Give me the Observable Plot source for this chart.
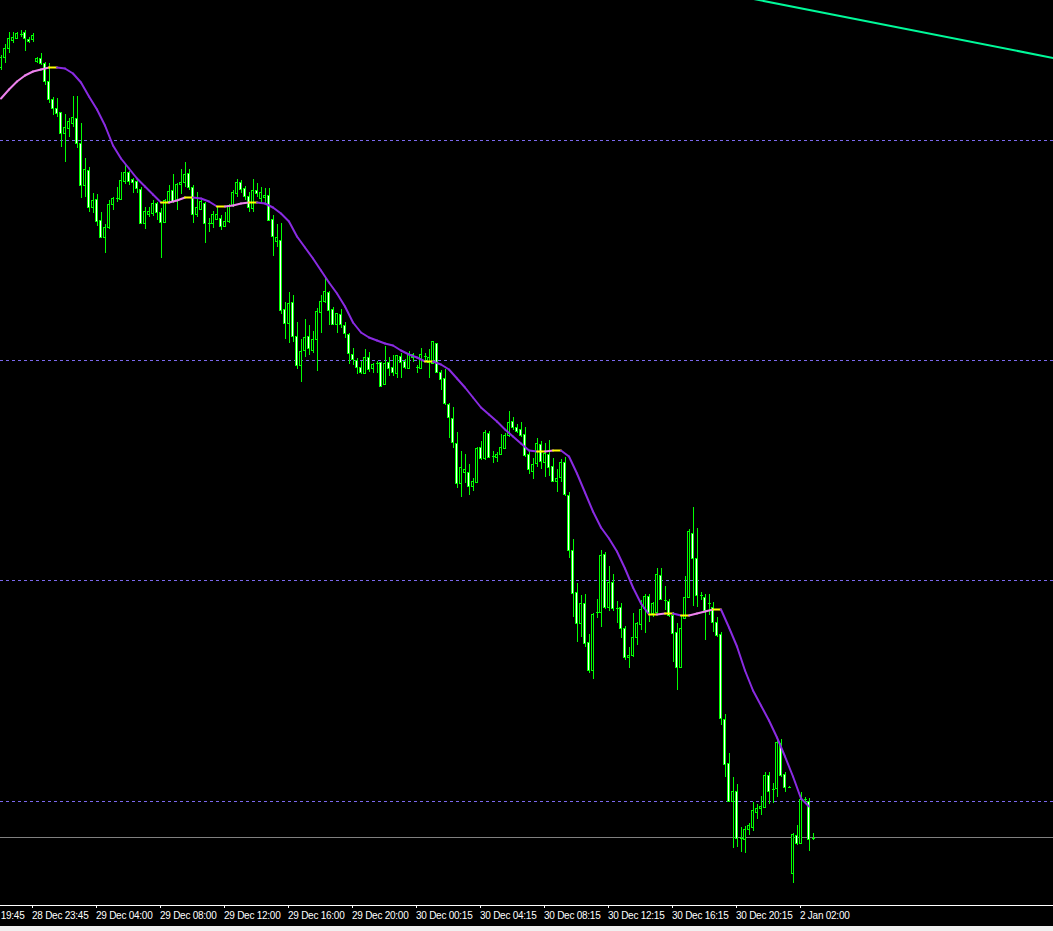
<!DOCTYPE html>
<html><head><meta charset="utf-8">
<script src="https://cdn.jsdelivr.net/npm/d3@7"></script>
<script src="https://cdn.jsdelivr.net/npm/@observablehq/plot@0.6"></script>
<style>
html,body{margin:0;padding:0;background:#f0f0f0;overflow:hidden}
#chart svg{display:block}
</style></head><body><div id="chart"></div>
<script>
// ---- candle data (M15 bars, left to right) ----
const opens = [183.3,184.3,185.2,186.0,186.2,186.6,186.8,186.1,186.1,183.9,184.2,183.7,181.9,180.1,179.2,178.8,176.7,177.2,177.7,178.2,175.7,171.5,173.0,169.3,170.1,168.0,166.3,167.3,169.6,170.2,170.1,171.9,172.8,172.1,171.9,171.1,167.7,168.6,168.7,169.7,168.8,167.8,169.9,171.0,170.0,171.6,171.8,172.7,171.3,168.6,169.1,169.7,167.7,167.7,168.1,168.2,167.4,167.9,169.5,170.7,171.8,171.2,170.4,169.2,171.0,170.2,170.3,170.5,168.1,165.9,166.0,159.1,157.7,159.8,156.4,153.5,155.0,156.4,155.0,156.1,158.8,159.9,160.8,159.1,157.6,158.6,157.5,156.6,154.6,154.0,153.3,152.7,154.3,153.2,153.7,153.8,151.6,153.8,153.3,152.7,154.4,153.9,153.2,154.3,153.3,153.2,154.4,153.8,153.7,155.7,152.8,152.2,149.6,148.2,145.7,141.7,142.8,142.8,141.4,141.8,145.3,144.2,146.7,144.4,144.3,144.6,145.2,146.5,147.9,147.3,147.1,146.6,144.6,142.9,143.7,145.6,143.8,144.6,143.4,141.9,142.3,143.8,140.5,135.0,130.8,127.7,129.7,125.8,123.0,128.8,128.8,134.6,129.3,131.8,129.2,129.3,127.2,124.3,124.5,126.3,127.6,129.2,130.4,128.7,128.8,132.5,130.0,129.9,128.5,126.8,123.3,128.2,130.3,136.7,134.2,130.5,130.3,129.7,129.3,127.8,126.6,118.1,113.7,109.9,110.9,106.2,106.1,107.1,107.3,108.8,109.2,109.3,112.5,111.1,111.2,115.7,112.6,111.3,102.7,106.5,105.7,110.1,109.9,106.2];
const highs = [184.5,185.6,186.8,186.8,186.8,187.0,187.0,186.3,186.7,184.3,184.7,183.8,183.7,180.3,180.2,178.8,178.6,178.2,180.4,180.4,177.7,174.2,173.3,170.7,170.6,168.8,167.6,170.0,170.3,171.3,172.8,173.5,172.9,172.2,172.0,171.3,169.3,169.3,170.0,169.8,169.2,170.1,171.5,172.6,171.7,173.1,173.8,173.1,171.5,170.8,170.0,169.8,168.2,168.9,169.4,168.5,168.8,169.6,171.0,172.1,172.0,171.4,170.8,172.1,171.7,171.3,171.2,171.2,168.5,167.6,167.7,159.8,160.8,160.5,157.8,156.1,158.1,157.5,156.9,159.2,160.5,162.2,160.9,159.3,158.7,159.1,157.8,156.7,155.2,154.2,153.9,155.1,154.8,153.7,153.9,153.8,155.4,154.3,154.5,154.5,154.7,154.1,154.9,154.7,153.5,155.2,154.7,155.1,155.9,155.7,153.0,153.1,149.7,149.3,146.8,144.9,144.6,143.6,142.2,145.3,145.9,147.0,146.9,144.9,144.8,146.6,146.7,148.9,148.3,147.6,147.8,147.3,144.9,144.2,146.2,145.9,145.7,146.0,144.2,143.1,144.1,144.3,140.8,136.1,131.7,130.5,130.6,126.6,128.7,130.1,135.0,134.8,133.4,132.6,129.9,129.7,127.4,125.3,128.7,127.8,130.0,130.6,130.6,129.8,133.2,133.2,131.4,130.1,128.8,127.7,128.4,132.4,137.1,139.3,137.2,130.8,130.6,130.6,129.8,128.3,126.8,118.6,114.7,112.3,111.6,107.3,107.4,107.7,109.8,109.6,110.4,112.8,112.8,111.7,116.3,116.1,112.8,111.4,106.7,107.5,110.8,110.3,110.2,106.7];
const lows = [183.0,183.7,184.7,185.7,186.1,186.3,184.9,185.7,185.8,183.7,183.5,181.5,179.7,178.5,178.3,175.3,173.8,176.3,177.3,175.2,170.2,170.3,168.8,168.7,167.4,166.3,164.7,167.1,169.0,169.8,170.0,171.6,171.5,170.7,170.7,167.6,167.1,168.3,168.4,168.0,164.2,167.8,169.7,169.7,169.0,170.6,171.3,171.0,167.7,168.3,169.0,165.7,166.8,167.2,168.0,167.0,167.3,167.7,169.3,170.3,170.7,170.0,168.8,168.8,170.3,169.8,169.7,167.9,164.4,165.3,158.6,156.1,155.7,155.8,153.1,151.8,154.3,154.5,154.7,152.9,156.7,159.7,157.5,157.5,156.7,157.2,156.2,153.6,153.5,152.6,152.6,152.6,152.8,152.7,152.7,151.3,151.5,152.4,152.4,152.2,152.2,153.1,153.1,153.8,152.7,153.1,153.8,152.2,153.7,152.7,151.0,149.5,146.2,145.2,141.2,140.3,141.7,140.5,140.9,141.7,144.0,144.0,144.2,143.7,143.8,144.5,145.1,146.3,147.0,146.7,146.3,144.3,142.6,142.1,143.3,143.1,142.3,142.4,141.8,140.8,141.8,140.4,134.2,128.3,125.8,126.3,125.3,122.7,122.1,128.2,127.3,129.1,128.9,128.9,127.7,126.2,124.0,123.2,124.3,125.5,127.0,126.7,127.8,128.3,128.7,130.0,129.0,128.3,123.8,121.0,123.2,128.2,130.3,129.4,129.3,130.0,126.0,128.5,126.8,126.3,117.5,112.3,109.9,105.2,105.3,104.8,104.7,106.5,106.9,108.1,108.5,109.2,109.6,109.7,110.3,112.3,110.8,111.2,101.7,105.5,105.7,109.7,104.9,106.0];
const closes = [184.3,185.2,186.2,186.3,186.7,186.6,186.2,185.9,186.5,184.2,183.7,181.9,180.1,179.2,178.7,176.7,177.3,177.9,178.3,175.7,171.5,173.1,169.3,170.0,167.9,166.3,167.3,169.6,170.2,170.2,172.0,172.8,171.9,171.8,171.2,167.7,168.9,168.9,169.7,168.8,167.8,170.0,170.9,169.9,171.6,171.8,172.6,171.3,168.6,169.3,169.9,167.7,167.6,168.6,168.6,167.4,167.9,169.5,170.8,171.8,171.1,170.4,169.3,171.0,170.7,170.8,170.5,168.0,166.4,166.3,159.0,157.7,159.7,156.4,153.5,154.9,156.3,155.2,156.1,158.9,159.9,160.9,159.0,157.6,158.7,157.6,156.7,154.7,154.1,153.3,152.8,154.3,153.1,153.6,153.7,151.4,153.7,153.2,152.8,154.5,153.8,153.3,154.7,154.6,153.3,154.6,154.4,154.3,155.9,152.8,152.1,149.7,148.3,145.8,141.7,143.3,143.1,141.4,141.9,145.2,144.2,146.8,144.3,144.4,144.6,145.3,146.5,147.8,147.3,146.9,146.5,144.5,143.1,143.6,145.7,143.9,144.7,143.3,141.9,142.2,143.8,140.6,135.0,130.7,127.7,129.7,125.7,123.0,128.6,128.8,134.5,129.3,131.8,129.2,129.2,127.2,124.3,124.5,126.3,127.7,129.1,130.4,128.7,129.7,132.6,130.1,130.0,128.5,126.7,123.3,127.2,130.3,136.9,134.2,130.5,130.4,129.0,129.7,127.8,126.5,118.2,113.6,109.9,110.9,106.2,106.2,107.1,107.5,109.0,109.2,109.4,112.5,110.9,111.1,115.8,112.5,111.3,111.3,106.6,105.7,110.1,110.0,106.1,106.2];

// ---- colour-changing moving average, read every second bar ----
const maValues = [180.2,181.1,181.9,182.5,182.9,183.1,183.3,183.3,183.2,182.7,181.8,180.4,179.1,177.5,175.5,174.2,173.2,172.2,171.4,170.6,169.8,169.8,170.0,170.3,170.3,170.2,169.9,169.4,169.4,169.5,169.7,169.8,169.8,169.7,169.3,168.7,167.9,166.4,165.3,164.2,163.0,161.8,160.7,159.4,157.8,156.8,156.3,156.0,155.7,155.5,155.0,154.6,154.3,153.9,153.9,153.6,153.1,152.2,151.3,150.3,149.3,148.6,147.9,147.1,146.4,145.7,145.0,144.9,144.9,145.0,145.0,144.4,142.7,140.8,138.9,137.3,136.2,134.9,133.2,131.3,129.7,128.6,128.6,128.7,128.7,128.5,128.5,128.7,128.9,129.1,129.1,127.3,125.4,123.0,121.0,119.5,118.0,116.3,114.4,112.4,110.2,109.4];
const maStep = 2;

// ---- horizontal levels, bid line, trend line ----
const levels = [176.0, 154.0, 132.0, 109.9];
const bidLevel = [106.3];
const trendBars = [185, 265];
const trendPrices = [190.4, 184.1];

// ---- time axis ----
const tickBars = [-8, 8, 24, 40, 56, 72, 88, 104, 120, 136, 152, 168, 184, 200];
const tickLabels = ["28 Dec 19:45","28 Dec 23:45","29 Dec 04:00","29 Dec 08:00","29 Dec 12:00","29 Dec 16:00","29 Dec 20:00","30 Dec 00:15","30 Dec 04:15","30 Dec 08:15","30 Dec 12:15","30 Dec 16:15","30 Dec 20:15","2 Jan 02:00"];

const yMin = 99.5, yMax = 190.0;

// ---- build tables ----
const bars = opens.map((o, i) => ({i, open: o, high: highs[i], low: lows[i], close: closes[i]}));
const bodies = bars.filter(d => Math.abs(d.close - d.open) >= 0.15);
const dojis = bars.filter(d => Math.abs(d.close - d.open) < 0.15);
const ma = maValues.map((v, k) => ({i: k * maStep, v}));
const maSegs = ma.slice(1).map((d, k) => {
  const p = ma[k], dv = d.v - p.v;
  return {x1: p.i, y1: p.v, x2: d.i, y2: d.v,
    c: Math.abs(dv) < 0.05 ? "#ffff00" : dv > 0 ? "#ee82ee" : "#8a2be2"};
});
const trend = trendBars.map((b, k) => ({i: b, p: trendPrices[k]}));
const tickMap = new Map(tickBars.map((b, k) => [b, tickLabels[k]]));

const W = 1053, H = 926;
const chart = Plot.plot({
  width: W, height: H,
  marginLeft: 0, marginRight: 0, marginTop: 0, marginBottom: 21,
  style: {background: "#000", color: "#fff", fontFamily: "'Liberation Sans', Arial, sans-serif", fontSize: "10px", letterSpacing: "-0.25px"},
  x: {domain: [-0.125, 263.125], axis: null},
  y: {domain: [yMin, yMax], axis: null},
  color: {type: "identity"},
  marks: [
    Plot.ruleY(levels, {stroke: "#7b68ee", strokeDasharray: "3,3", shapeRendering: "crispEdges"}),
    Plot.ruleY(bidLevel, {stroke: "#808080", shapeRendering: "crispEdges"}),
    Plot.ruleX(bars, {x: "i", y1: "low", y2: "high", stroke: "#00ff00", shapeRendering: "crispEdges"}),
    Plot.rect(bodies, {x1: d => d.i - 0.25, x2: d => d.i + 0.25, y1: "open", y2: "close",
      fill: d => d.close > d.open ? "#000000" : "#ffffff", stroke: "#00ff00", strokeWidth: 1, shapeRendering: "crispEdges"}),
    Plot.link(dojis, {x1: d => d.i - 0.375, x2: d => d.i + 0.375, y1: "open", y2: "open", stroke: "#00ff00", shapeRendering: "crispEdges"}),
    Plot.link(maSegs, {x1: "x1", y1: "y1", x2: "x2", y2: "y2", stroke: "c", strokeWidth: 2, strokeLinecap: "round"}),
    Plot.line(trend, {x: "i", y: "p", stroke: "#00fa9a", strokeWidth: 2, clip: true}),
    Plot.ruleY([yMin], {stroke: "#ffffff", shapeRendering: "crispEdges"}),
    Plot.axisX(tickBars, {tickFormat: d => tickMap.get(d), tickSize: 3, tickPadding: 3,
      textAnchor: "start", dx: -1, stroke: "#ffffff", fill: "#ffffff", shapeRendering: "crispEdges"})
  ]
});
document.getElementById("chart").appendChild(chart);
</script></body></html>
